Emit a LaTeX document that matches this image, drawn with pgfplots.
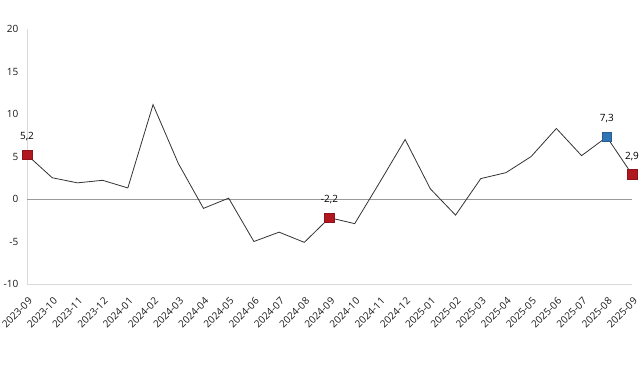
\documentclass[border=0pt]{standalone}
\usepackage{pgfplots}
\pgfplotsset{compat=1.18}
\usepackage{fontspec}
\setmainfont{Open Sans}
\definecolor{mred}{HTML}{B0171F}
\definecolor{mblue}{HTML}{2F75B5}
\begin{document}
\begin{tikzpicture}
\useasboundingbox (0,0) rectangle (480.75pt,281.25pt);
\begin{axis}[
  at={(20.25pt,68.25pt)}, anchor=south west,
  scale only axis, width=453.75pt, height=191.25pt,
  xmin=0, xmax=24, ymin=-10, ymax=20,
  axis x line=bottom, axis y line=left,
  axis line style={-, draw=black!15, line width=0.6pt},
  ytick={-10,-5,0,5,10,15,20},
  xtick={0,...,24},
  xticklabels={2023-09,2023-10,2023-11,2023-12,2024-01,2024-02,2024-03,2024-04,2024-05,2024-06,2024-07,2024-08,2024-09,2024-10,2024-11,2024-12,2025-01,2025-02,2025-03,2025-04,2025-05,2025-06,2025-07,2025-08,2025-09},
  major tick length=0pt, tick style={draw=none},
  /pgf/number format/assume math mode=true,
  ticklabel style={font=\fontsize{7.5pt}{9pt}\selectfont, text=black!90},
  yticklabel style={xshift=-3pt},
  xticklabel style={xshift=0.5pt, yshift=-4.6pt, rotate=45, anchor=north east},
  clip=false,
]
\addplot[gray!80, line width=0.6pt, forget plot] coordinates {(0,0) (24,0)};
\addplot[black!80, line width=0.6pt, mark=none] coordinates {
(0,5.2) (1,2.5) (2,1.9) (3,2.2) (4,1.3) (5,11.1) (6,4.2) (7,-1.1) (8,0.1)
(9,-5.0) (10,-3.9) (11,-5.1) (12,-2.2) (13,-2.9) (14,2.0) (15,7.0) (16,1.2)
(17,-1.9) (18,2.4) (19,3.1) (20,5.0) (21,8.3) (22,5.1) (23,7.3) (24,2.9)};
\addplot[only marks, mark=square*, mark size=3.6pt,
  mark options={fill=mred, draw=mred!80!black, line width=0.4pt},
  point meta=explicit symbolic, nodes near coords,
  nodes near coords style={anchor=center, yshift=13.5pt, font=\fontsize{7.5pt}{9pt}\selectfont, text=black}]
  coordinates {(0,5.2) [5,2] (12,-2.2) [-2,2] (24,2.9) [2,9]};
\addplot[only marks, mark=square*, mark size=3.6pt,
  mark options={fill=mblue, draw=mblue!80!black, line width=0.4pt},
  point meta=explicit symbolic, nodes near coords,
  nodes near coords style={anchor=center, yshift=13.5pt, font=\fontsize{7.5pt}{9pt}\selectfont, text=black}]
  coordinates {(23,7.3) [7,3]};
\end{axis}
\end{tikzpicture}
\end{document}
